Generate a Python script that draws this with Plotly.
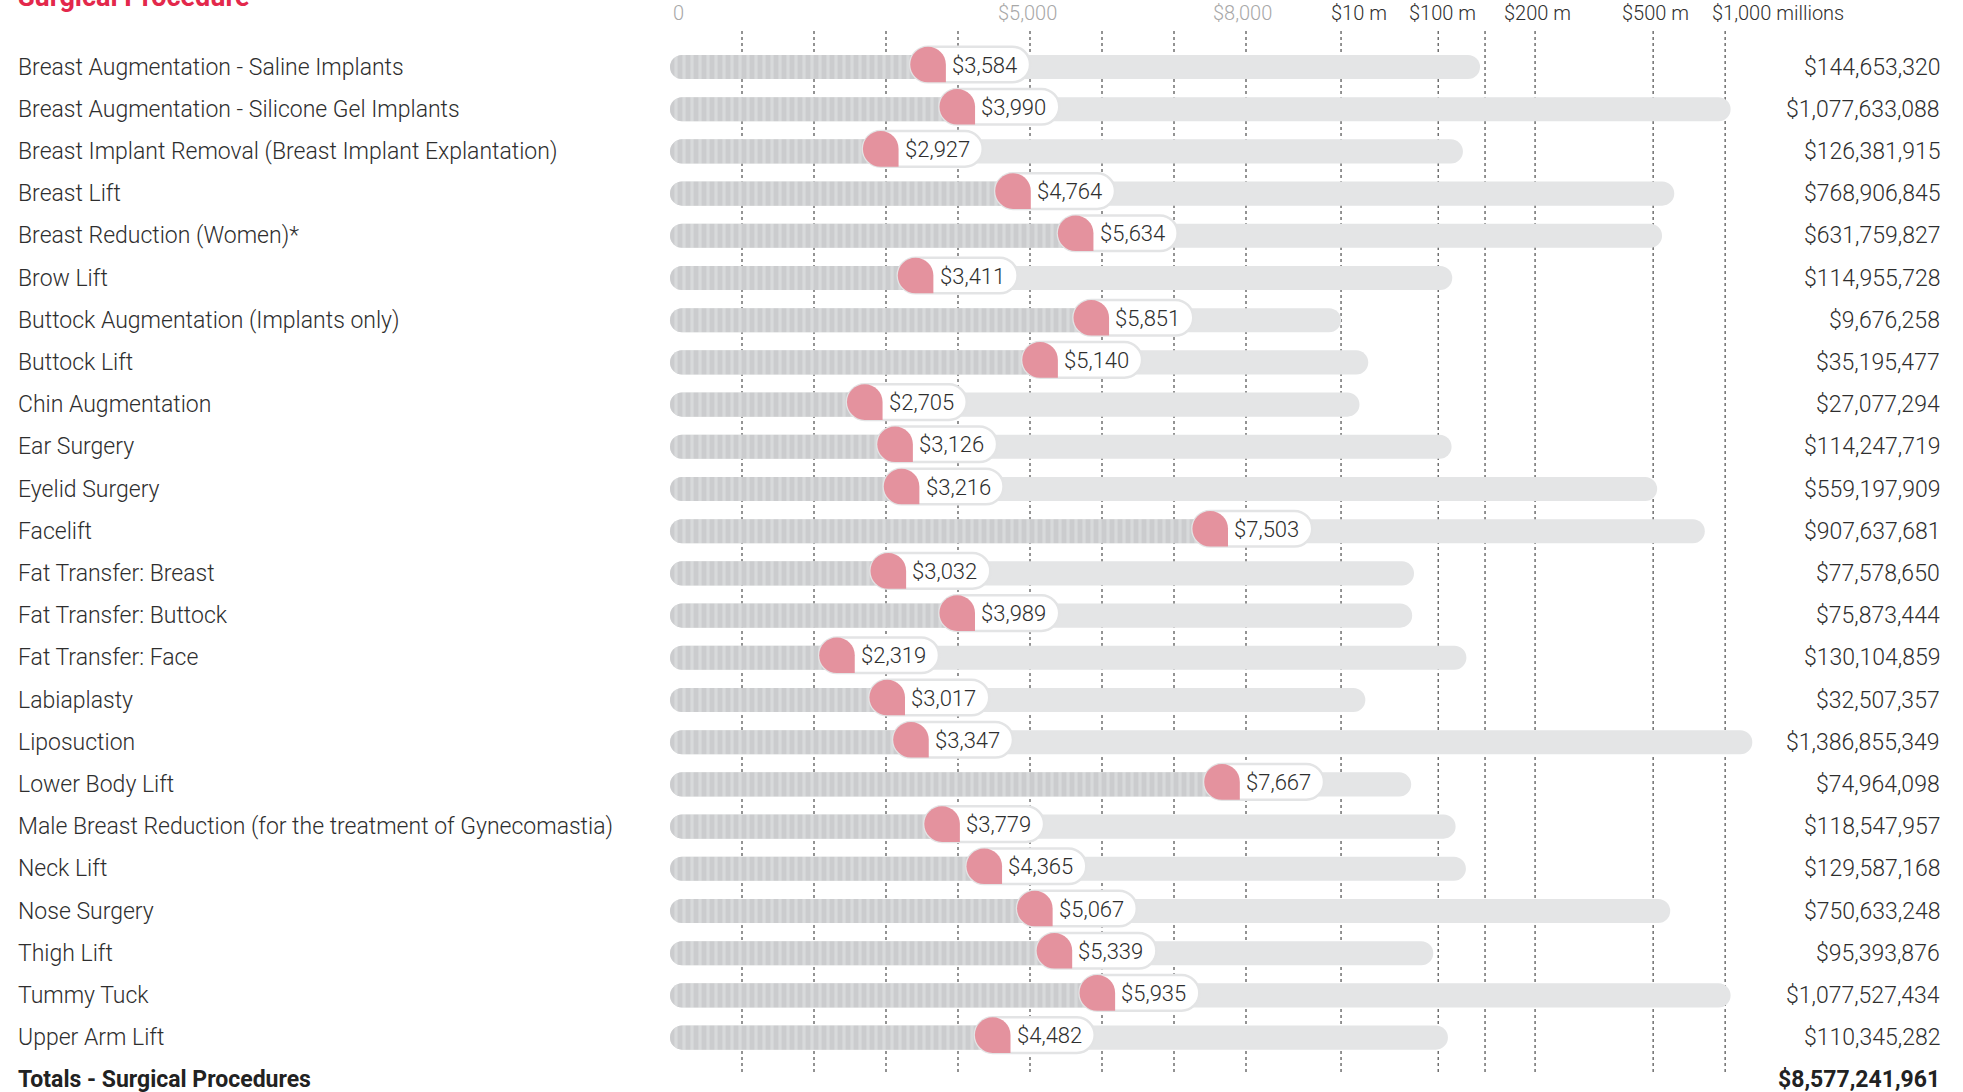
import numpy as np
import plotly.graph_objects as go

# ---- data -------------------------------------------------------------
procedures = [
    "Breast Augmentation - Saline Implants",
    "Breast Augmentation - Silicone Gel Implants",
    "Breast Implant Removal (Breast Implant Explantation)",
    "Breast Lift",
    "Breast Reduction (Women)*",
    "Brow Lift",
    "Buttock Augmentation (Implants only)",
    "Buttock Lift",
    "Chin Augmentation",
    "Ear Surgery",
    "Eyelid Surgery",
    "Facelift",
    "Fat Transfer: Breast",
    "Fat Transfer: Buttock",
    "Fat Transfer: Face",
    "Labiaplasty",
    "Liposuction",
    "Lower Body Lift",
    "Male Breast Reduction (for the treatment of Gynecomastia)",
    "Neck Lift",
    "Nose Surgery",
    "Thigh Lift",
    "Tummy Tuck",
    "Upper Arm Lift",
]
avg_fee = [3584, 3990, 2927, 4764, 5634, 3411, 5851, 5140, 2705, 3126, 3216, 7503,
           3032, 3989, 2319, 3017, 3347, 7667, 3779, 4365, 5067, 5339, 5935, 4482]
total_fees = [144653320, 1077633088, 126381915, 768906845, 631759827, 114955728,
              9676258, 35195477, 27077294, 114247719, 559197909, 907637681,
              77578650, 75873444, 130104859, 32507357, 1386855349, 74964098,
              118547957, 129587168, 750633248, 95393876, 1077527434, 110345282]
total_label = "Totals - Surgical Procedures"
grand_total = 8577241961

fee_grid = [1000, 2000, 3000, 4000, 5000, 6000, 7000, 8000]
fee_tick_vals = [0, 5000, 8000]
fee_tick_text = ["0", "$5,000", "$8,000"]

# millions part of the axis: hand-drawn breakpoints (millions -> axis units)
mill_ticks = [10, 100, 150, 200, 500, 750, 1000, 1400]
mill_axis = [9320, 10670, 11320, 12015, 13655, 13890, 14655, 15045]
mill_grid = [10, 100, 150, 200, 500, 1000]
mill_tick_vals = [10, 100, 200, 500, 1000]
mill_tick_text = ["$10 m", "$100 m", "$200 m", "$500 m", "$1,000 millions"]


def mill_scale(v):
    return np.interp(np.asarray(v, dtype=float) / 1e6, mill_ticks, mill_axis)


# ---- style -------------------------------------------------------------
W, H = 1963, 1092
PX_PER_UNIT = 0.072          # pixels per dollar of fee
ZERO_PX = 670
ROW0_PX, ROW_STEP = 67, 42.2
FONT = "Roboto"
TXT = "#2e2e2e"
PINK = "#e4929e"
RED = "#e3284b"

cats = procedures + [total_label]
x_min = -ZERO_PX / PX_PER_UNIT
x_max = x_min + W / PX_PER_UNIT
y_top = -ROW0_PX / ROW_STEP
y_bot = (H - ROW0_PX) / ROW_STEP

fig = go.Figure()

# total revenue bars (light grey)
fig.add_trace(go.Bar(
    y=procedures, x=mill_scale(total_fees), base=0, orientation="h",
    width=0.57, marker=dict(color="#e4e5e6", cornerradius=12, line=dict(width=0)),
    hoverinfo="skip",
))
# stacked "coins" up to the average fee
fig.add_trace(go.Bar(
    y=procedures, x=avg_fee, base=0, orientation="h",
    width=0.57,
    marker=dict(color="#cbccce", cornerradius=12, line=dict(width=0),
                pattern=dict(shape="|", fgcolor="#e6e7e8", size=8, solidity=0.4,
                             fillmode="overlay")),
    hoverinfo="skip",
))

shapes = []
annotations = []

# dotted grid lines
for v in fee_grid:
    shapes.append(dict(type="line", xref="x", yref="paper", x0=v, x1=v,
                       y0=1 - 1072 / H, y1=1 - 30 / H, layer="below",
                       line=dict(color="#666666", width=1.4, dash="dot")))
for v in mill_scale(np.array(mill_grid) * 1e6):
    shapes.append(dict(type="line", xref="x", yref="paper", x0=v, x1=v,
                       y0=1 - 1072 / H, y1=1 - 30 / H, layer="below",
                       line=dict(color="#666666", width=1.4, dash="dot")))


def bubble_path(r, dy):
    k = 0.5523 * r
    return (f"M {r},{dy} L {r},{dy - r} L 0,{dy - r} "
            f"C {-k},{dy - r} {-r},{dy - k} {-r},{dy} "
            f"C {-r},{dy + k} {-k},{dy + r} 0,{dy + r} "
            f"C {k},{dy + r} {r},{dy + k} {r},{dy} Z")


def pill_path(r, w, dy):
    k = 0.5523 * r
    return (f"M 0,{dy + r} L {w - r},{dy + r} "
            f"C {w - r + k},{dy + r} {w},{dy + k} {w},{dy} "
            f"C {w},{dy - k} {w - r + k},{dy - r} {w - r},{dy - r} "
            f"L 0,{dy - r} "
            f"C {-k},{dy - r} {-r},{dy - k} {-r},{dy} "
            f"C {-r},{dy + k} {-k},{dy + r} 0,{dy + r} Z")


for name, fee in zip(procedures, avg_fee):
    shapes.append(dict(type="path", xref="x", yref="y", xsizemode="pixel",
                       ysizemode="pixel", xanchor=fee, yanchor=name,
                       path=pill_path(17.8, 102, 2.5), layer="above",
                       fillcolor="white", line=dict(color="#e3e4e5", width=2.5)))
    shapes.append(dict(type="path", xref="x", yref="y", xsizemode="pixel",
                       ysizemode="pixel", xanchor=fee, yanchor=name,
                       path=bubble_path(17.8, 2.5), layer="above",
                       fillcolor=PINK, line=dict(width=0)))
    annotations.append(dict(x=fee, y=name, xref="x", yref="y", text=f"${fee:,}",
                            showarrow=False, xanchor="left", xshift=22, yshift=2,
                            font=dict(family=FONT, size=22, color=TXT, weight=300)))

# left labels and right totals
for name, tot in zip(procedures, total_fees):
    annotations.append(dict(x=16 / W, y=name, xref="paper", yref="y", text=name,
                            showarrow=False, xanchor="left",
                            font=dict(family=FONT, size=23, color=TXT, weight=300)))
    annotations.append(dict(x=1942 / W, y=name, xref="paper", yref="y",
                            text=f"${tot:,}", showarrow=False, xanchor="right",
                            font=dict(family=FONT, size=23, color=TXT, weight=300)))
annotations.append(dict(x=16 / W, y=total_label, xref="paper", yref="y",
                        text=f"<b>{total_label}</b>", showarrow=False, xanchor="left",
                        font=dict(family=FONT, size=23, color="#222222")))
annotations.append(dict(x=1942 / W, y=total_label, xref="paper", yref="y",
                        text=f"<b>${grand_total:,}</b>", showarrow=False,
                        xanchor="right", font=dict(family=FONT, size=23, color="#222222")))

# top axis labels
label_y = 1 - 13 / H
for v, t, dx in zip(fee_tick_vals, fee_tick_text, [8, -3, -4]):
    annotations.append(dict(x=v, y=label_y, xref="x", yref="paper", text=t,
                            showarrow=False, xshift=dx, yanchor="middle",
                            font=dict(family=FONT, size=20, color="#a8a8a8", weight=300)))
mill_pos = mill_scale(np.array(mill_tick_vals) * 1e6)
for v, t, dx in zip(mill_pos, mill_tick_text, [18, 4, 2, 2, -15]):
    annotations.append(dict(x=v, y=label_y, xref="x", yref="paper", text=t,
                            showarrow=False, xshift=dx, yanchor="middle",
                            xanchor="left" if "millions" in t else "center",
                            font=dict(family=FONT, size=20, color=TXT, weight=300)))

# section title (cut off by the top edge)
annotations.append(dict(x=16 / W, y=1, xref="paper", yref="paper",
                        text="<b>Surgical Procedure</b>", showarrow=False,
                        xanchor="left", yanchor="bottom", yshift=-15,
                        font=dict(family=FONT, size=27, color=RED)))

fig.update_layout(
    width=W, height=H, margin=dict(l=0, r=0, t=0, b=0),
    paper_bgcolor="white", plot_bgcolor="white",
    barmode="overlay", showlegend=False,
    xaxis=dict(range=[x_min, x_max], visible=False, fixedrange=True),
    yaxis=dict(type="category", categoryorder="array", categoryarray=cats,
               range=[y_bot, y_top], visible=False, fixedrange=True),
    shapes=shapes, annotations=annotations,
)

fig.write_html("out.html", config={"displayModeBar": False},
               post_script="document.body.style.margin='0';")
